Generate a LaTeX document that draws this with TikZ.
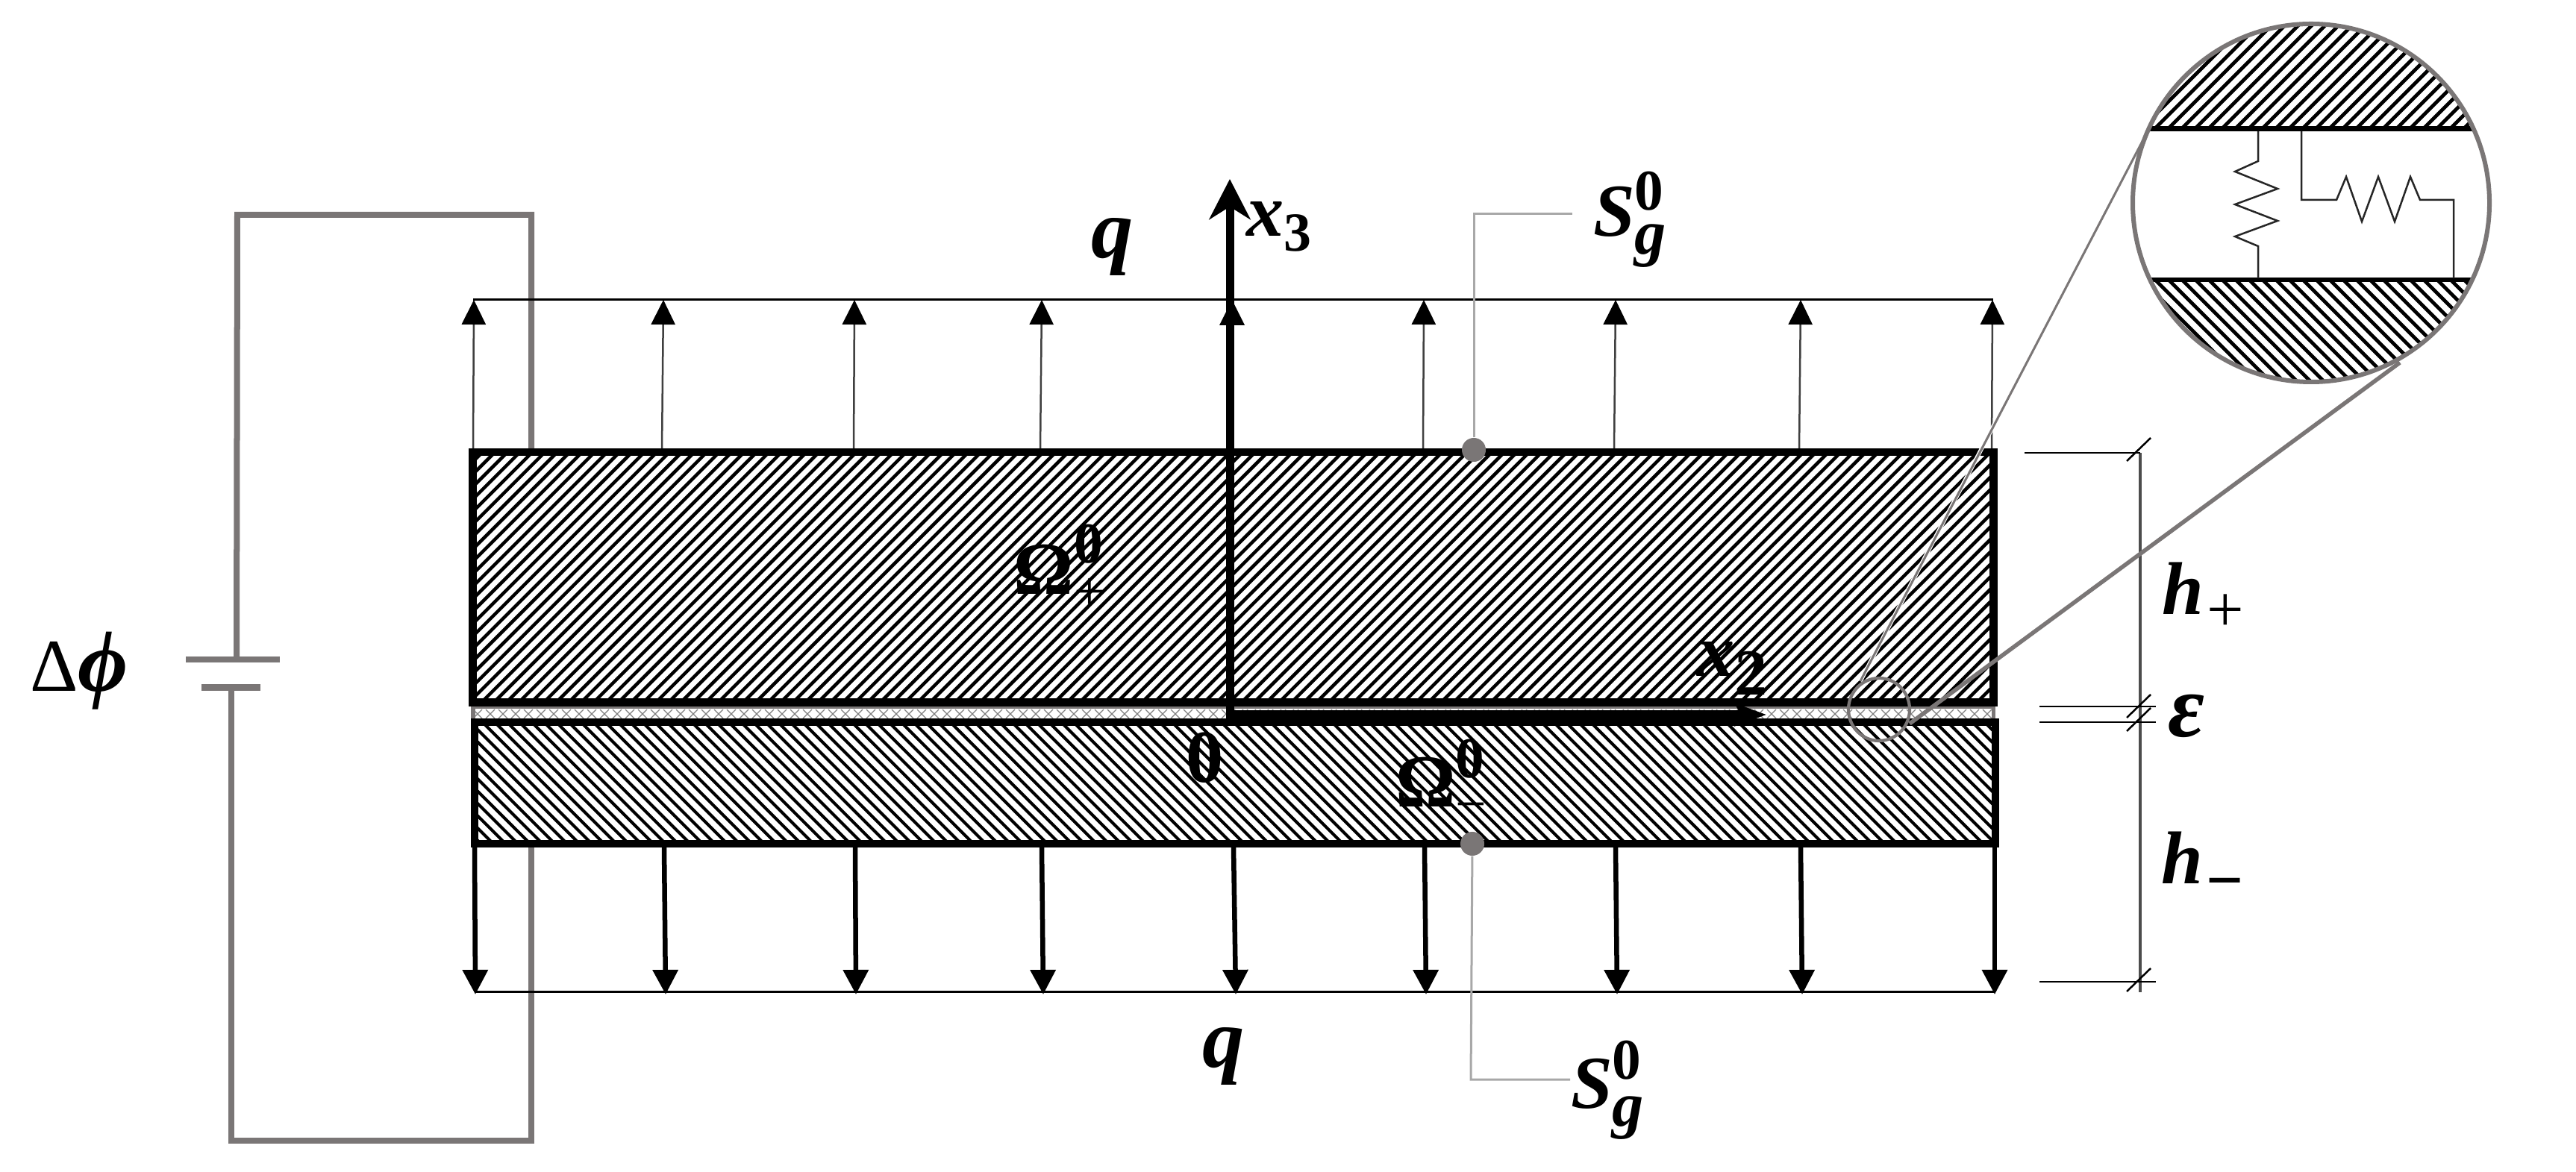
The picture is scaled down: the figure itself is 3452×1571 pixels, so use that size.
\documentclass[tikz,border=0pt]{standalone}
\usepackage{fontspec}
\setmainfont{Liberation Serif}
\usetikzlibrary{arrows.meta}
\definecolor{wire}{HTML}{7A7676}
\definecolor{leader}{HTML}{A8A8A8}
\newcommand{\bigbi}{\fontsize{28.5}{30}\selectfont\bfseries\itshape}
\newcommand{\smbi}{\fontsize{24}{26}\selectfont\bfseries\itshape}
\newcommand{\smup}{\fontsize{22}{24}\selectfont\bfseries\upshape}
\newcommand{\smop}{\fontsize{21}{23}\selectfont\mdseries\upshape}
\newcommand{\subsup}[4]{\rlap{\raisebox{#1}{\smup #3}}\raisebox{#2}{#4}}
\tikzset{
  lab/.style={inner sep=0pt,outer sep=0pt,anchor=base west,text=black,font=\bigbi},
  wireline/.style={draw=wire,line width=0.08cm},
  batplate/.style={fill=wire,draw=none},
  plate/.style={draw=black,line width=0.105cm,miter limit=4},
  hatchup/.style={draw=black,line width=0.045cm},
  hatchdn/.style={draw=black,line width=0.04cm},
  lattice/.style={draw=black!50,line width=0.013cm},
  uparrow/.style={draw=black!75,line width=0.025cm,-{Triangle[length=0.33cm,width=0.32cm,color=black]}},
  dnarrow/.style={draw=black,line width=0.065cm,-{Triangle[length=0.33cm,width=0.33cm]}},
  capline/.style={draw=black,line width=0.03cm},
  dim/.style={draw=black,line width=0.025cm},
  dimv/.style={draw=black!70,line width=0.035cm},
  leaderline/.style={draw=leader,line width=0.03cm},
  gdot/.style={circle,fill=wire,draw=none,minimum size=0.32cm,inner sep=0pt},
  lens/.style={draw=wire,line width=0.06cm},
  tanline/.style={draw=wire,line width=0.055cm},
  axis3/.style={draw=black,line width=0.11cm,-{Stealth[length=0.54cm,width=0.55cm,inset=0.17cm]}},
  axis2/.style={draw=black,line width=0.11cm,-{Stealth[length=0.42cm,width=0.30cm,inset=0.08cm]}},
  res/.style={draw=black!85,line width=0.025cm,line join=miter},
  bar/.style={draw=black,line width=0.065cm},
}
\begin{document}
\begin{tikzpicture}[x=0.01cm,y=-0.01cm]
\useasboundingbox (0,0) rectangle (3452,1571);
\fill[white] (0,0) rectangle (3452,1571);

% battery circuit
\coordinate (w1) at (317,884);
\coordinate (w2) at (318,288);
\coordinate (w3) at (712,288);
\coordinate (w4) at (712,604);
\coordinate (w5) at (310,921);
\coordinate (w6) at (310,1529);
\coordinate (w7) at (712,1529);
\coordinate (w8) at (712,1134);
\draw[wireline] (w1) -- (w2) -- (w3) -- (w4);
\draw[wireline] (w5) -- (w6) -- (w7) -- (w8);
\fill[batplate] (249,880) rectangle (375,888);
\fill[batplate] (270,917) rectangle (349,926);

% middle layer
\fill[white] (631,946) rectangle (2674,963);
\begin{scope}
\clip (637,951) rectangle (2669,963);
\foreach \k in {600,617,...,2700}{
  \draw[lattice] (\k,951) -- (\k+12,963);
  \draw[lattice] (\k+12,951) -- (\k,963);
}
\end{scope}
\fill[wire] (631,946) rectangle (2674,950);
\fill[wire] (631,946) rectangle (637,963);
\fill[wire] (2669,946) rectangle (2674,963);

% upper plate hatching
\begin{scope}
\clip (633,606) rectangle (2672,941);
\foreach \k in {290,306.7,...,2690}{
  \draw[hatchup] (\k,946) -- (\k+345,601);
}
\end{scope}
% lower plate hatching
\begin{scope}
\clip (636,968) rectangle (2674,1131);
\foreach \k in {460,476.5,...,2690}{
  \draw[hatchdn] (\k,963) -- (\k+173,1136);
}
\end{scope}
\draw[plate] (633.5,606) rectangle (2671.5,941.5);
\draw[plate] (636,968) rectangle (2674,1131);

% load lines
\coordinate (tl1) at (634,402);
\coordinate (tl2) at (2671,402);
\coordinate (bl1) at (636,1329);
\coordinate (bl2) at (2672,1329);
\draw[capline] (tl1) -- (tl2);
\draw[capline] (bl1) -- (bl2);

% upper arrows
\foreach \i/\b/\t in {1/634/635,2/887/889,3/1144/1145,4/1394/1396,6/1907/1908,7/2163/2165,8/2411/2413,9/2669/2670}{
  \coordinate (ub\i) at (\b,601);
  \coordinate (ut\i) at (\t,402);
  \draw[uparrow] (ub\i) -- (ut\i);
}
\coordinate (ut5) at (1651,402);
\fill[black] (1651,402) -- (1668,436) -- (1634,436) -- cycle;
% lower arrows
\foreach \i/\b/\t in {1/636/637,2/890/892,3/1146/1147,4/1396/1398,5/1653/1656,6/1909/1911,7/2165/2167,8/2413/2415,9/2673/2673}{
  \coordinate (db\i) at (\b,1136);
  \coordinate (dt\i) at (\t,1333);
  \draw[dnarrow] (db\i) -- (dt\i);
}

% axes
\coordinate (o3) at (1648,963);
\coordinate (x3tip) at (1648,240);
\coordinate (o2) at (1643,958);
\coordinate (x2tip) at (2367,958);
\draw[axis3] (o3) -- (x3tip);
\draw[axis2] (o2) -- (x2tip);

% dimension lines
\coordinate (d0) at (2868,607);
\coordinate (d1) at (2868,1330);
\draw[dimv] (d0) -- (d1);
\coordinate (e1) at (2713,607);
\coordinate (e2a) at (2733,947); \coordinate (e2b) at (2889,947);
\coordinate (e3a) at (2733,968); \coordinate (e3b) at (2889,968);
\coordinate (e4a) at (2733,1316); \coordinate (e4b) at (2889,1316);
\draw[dim] (e1) -- (d0);
\draw[dim] (e2a) -- (e2b);
\draw[dim] (e3a) -- (e3b);
\draw[dim] (e4a) -- (e4b);
\foreach \n/\y in {a/618,b/962,c/980,d/1329}{
  \coordinate (sl\n1) at (2850,\y);
  \coordinate (sl\n2) at (2882,\y-31);
  \draw[dim] (sl\n1) -- (sl\n2);
}

% S leaders
\node[gdot] (dot1) at (1975,603) {};
\node[gdot] (dot2) at (1973,1131) {};
\coordinate (l1) at (1975,287);
\coordinate (l1e) at (2107,287);
\coordinate (l2) at (1971,1447);
\coordinate (l2e) at (2104,1447);
\draw[leaderline] (dot1) -- (l1) -- (l1e);
\draw[leaderline] (dot2) -- (l2) -- (l2e);

% detail circle
\begin{scope}
\clip (3097,272) ellipse [x radius=239,y radius=240];
\fill[white] (2850,30) rectangle (3340,515);
\foreach \k in {2600,2618,...,3400}{
  \draw[black,line width=0.047cm] (\k,172) -- (\k+145,27);
  \draw[black,line width=0.047cm] (\k,375) -- (\k+145,520);
}
\fill[white] (2850,172) rectangle (3340,375);
\coordinate (i1a) at (2870,172.5); \coordinate (i1b) at (3320,172.5);
\coordinate (i2a) at (2870,375); \coordinate (i2b) at (3320,375);
\draw[bar] (i1a) -- (i1b);
\draw[bar] (i2a) -- (i2b);
\end{scope}
\coordinate (r1a) at (3026,176);
\coordinate (r1b) at (3026,373);
\draw[res] (r1a) -- (3026,216) -- (2995,230) -- (3052,253) -- (2995,274) -- (3052,296) -- (2995,317) -- (3026,330) -- (r1b);
\coordinate (r2a) at (3084,176);
\coordinate (r2b) at (3288,373);
\draw[res] (r2a) -- (3084,268) -- (3131,268) -- (3144,237) -- (3165,297) -- (3187,237) -- (3209,297) -- (3230,237) -- (3243,268) -- (3288,268) -- (r2b);
\draw[lens] (3097,272) ellipse [x radius=239,y radius=240];

% zoom lines and small circle
\coordinate (z1a) at (2880,172);
\coordinate (z1b) at (2493,913);
\draw[white,line width=0.055cm] (2677,560) -- (z1b);
\draw[wire,line width=0.03cm] (z1a) -- (z1b);
\draw[draw=wire,line width=0.042cm] (2518,951) ellipse [x radius=41,y radius=42];
\coordinate (z2a) at (3216,486);
\coordinate (z2b) at (2559,970);
\draw[tanline] (z2a) -- (z2b);

% labels
\node[lab] (dphi) at (40,927) {{\upshape\mdseries Δ}\fontsize{33}{35}\selectfont ϕ};
\node[lab,font=\fontsize{32}{34}\selectfont\bfseries\itshape] (q1) at (1462,346) {q};
\node[lab,font=\fontsize{32}{34}\selectfont\bfseries\itshape] (q2) at (1611,1430) {q};
\node[lab] (x3) at (1670,317) {x\raisebox{-0.2cm}{\fontsize{21}{23}\selectfont\bfseries\upshape 3}};
\node[lab] (x2) at (2274,907) {x\raisebox{-0.24cm}{\fontsize{25}{27}\selectfont\bfseries\upshape 2}};
\node[lab] (s1) at (2135,317) {S\subsup{0.35cm}{-0.23cm}{0}{\smbi g}};
\node[lab] (s2) at (2105,1485) {S\subsup{0.38cm}{-0.24cm}{0}{\smbi g}};
\node[lab] (om1) at (1358,797) {{\upshape Ω}\hspace{0.01cm}\subsup{0.42cm}{-0.2cm}{0}{\smop +}};
\node[lab] (om2) at (1870,1082) {{\upshape Ω}\subsup{0.39cm}{-0.2cm}{0}{\smop −}};
\node[lab,font=\bigbi\upshape] (zero) at (1589,1049) {0};
\node[lab] (hp) at (2897,824) {h\hspace{0.05cm}\raisebox{-0.22cm}{\fontsize{25}{27}\selectfont\mdseries\upshape +}};
\node[lab,font=\fontsize{34}{36}\selectfont\bfseries\itshape] (eps) at (2905,988) {ε};
\node[lab] (hm) at (2896,1184) {h\hspace{0.05cm}\raisebox{-0.25cm}{\fontsize{25}{27}\selectfont\bfseries\upshape −}};
\end{tikzpicture}
\end{document}
